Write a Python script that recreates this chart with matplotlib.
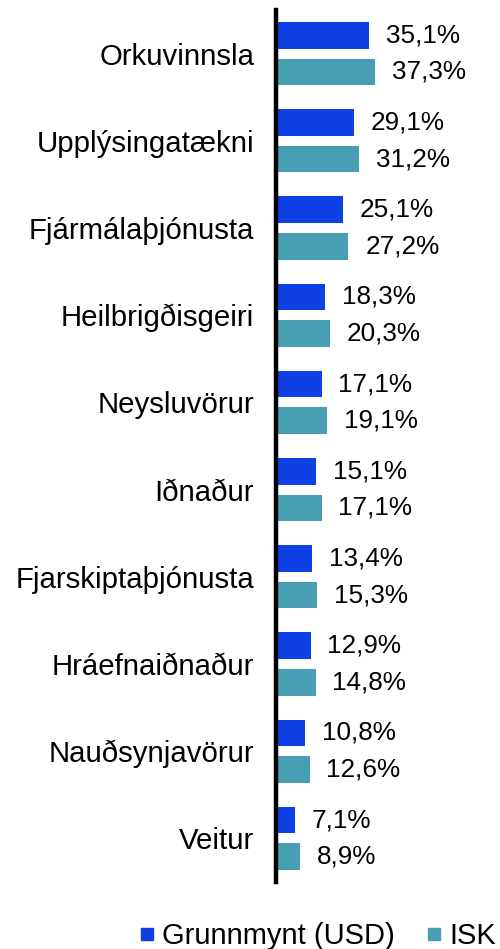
import matplotlib
matplotlib.use("Agg")
import matplotlib.pyplot as plt
from matplotlib.lines import Line2D
import numpy as np

categories = ["Orkuvinnsla", "Upplýsingatækni", "Fjármálaþjónusta", "Heilbrigðisgeiri",
              "Neysluvörur", "Iðnaður", "Fjarskiptaþjónusta", "Hráefnaiðnaður",
              "Nauðsynjavörur", "Veitur"]
usd = [35.1, 29.1, 25.1, 18.3, 17.1, 15.1, 13.4, 12.9, 10.8, 7.1]
isk = [37.3, 31.2, 27.2, 20.3, 19.1, 17.1, 15.3, 14.8, 12.6, 8.9]
series_names = ["Grunnmynt (USD)", "ISK"]

blue = "#0E40E6"
teal = "#489EB3"
font = ["Liberation Sans", "DejaVu Sans"]
plt.rcParams["font.family"] = font

W, H = 500, 949
fig = plt.figure(figsize=(W / 100, H / 100), dpi=100)
left = 276.4 / W
right = (276.4 + 2.65 * 80) / W
top = 1 - 10 / H
bottom = 1 - 882 / H
ax = fig.add_axes([left, bottom, right - left, top - bottom])

y = np.arange(len(categories))
h = 0.305
off = 0.21
ax.barh(y - off, usd, height=h, color=blue, zorder=2)
ax.barh(y + off, isk, height=h, color=teal, zorder=2)

ax.set_xlim(0, 80)
ax.set_ylim(len(categories) - 0.5, -0.5)

for yi, v in zip(y, usd):
    ax.annotate(f"{v:.1f}".replace(".", ",") + "%", (v, yi - off), xytext=(12.0, 0),
                textcoords="offset points", va="center", ha="left", fontsize=18.8,
                color="black")
for yi, v in zip(y, isk):
    ax.annotate(f"{v:.1f}".replace(".", ",") + "%", (v, yi + off), xytext=(12.0, 0),
                textcoords="offset points", va="center", ha="left", fontsize=18.8,
                color="black")

ax.set_yticks(y)
ax.set_yticklabels(categories, fontsize=21.2)
ax.tick_params(axis="y", length=0, pad=16)
ax.set_xticks([])
for s in ["top", "right", "bottom"]:
    ax.spines[s].set_visible(False)
ax.spines["left"].set_linewidth(3.2)
ax.spines["left"].set_color("black")
ax.spines["left"].set_zorder(3)

handles = [Line2D([], [], marker="s", linestyle="none", markersize=8.8, color=blue),
           Line2D([], [], marker="s", linestyle="none", markersize=8.8, color=teal)]
fig.legend(handles, series_names, loc="center", bbox_to_anchor=(318 / W, 1 - 936 / H),
           ncol=2, frameon=False, fontsize=21, handlelength=0.45, handletextpad=0.3,
           columnspacing=1.1, borderpad=0, borderaxespad=0)

fig.savefig("out.png", dpi=100)
